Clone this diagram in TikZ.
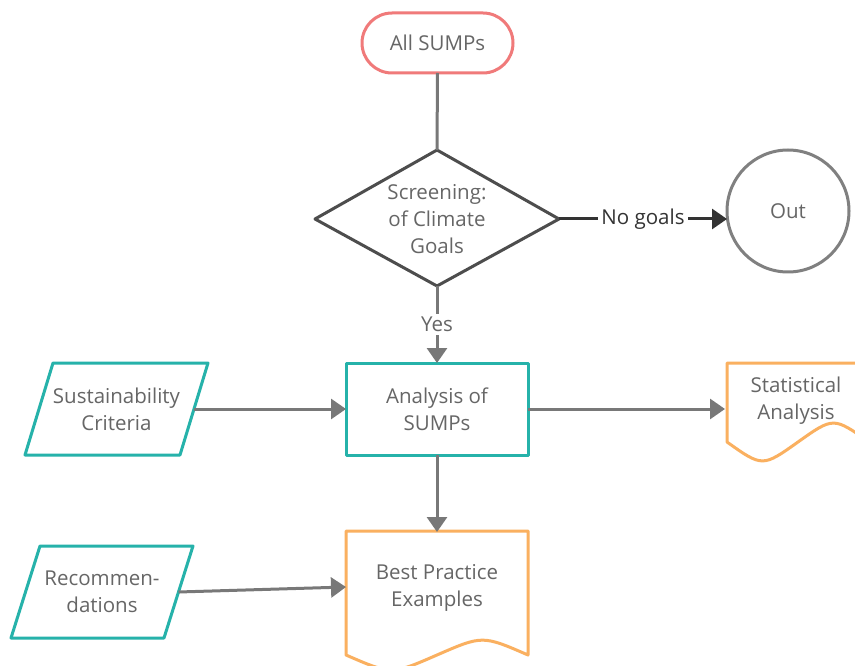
\documentclass[tikz,border=0pt]{standalone}
\usepackage{fontspec}
\setmainfont{Open Sans}
\usetikzlibrary{arrows.meta}

\definecolor{termred}{RGB}{240,122,122}
\definecolor{procteal}{RGB}{38,178,170}
\definecolor{docorange}{RGB}{250,176,96}
\definecolor{linegray}{RGB}{120,120,120}
\definecolor{decgray}{RGB}{77,77,77}
\definecolor{outgray}{RGB}{128,128,128}
\definecolor{textgray}{RGB}{102,102,102}
\definecolor{darktext}{RGB}{51,51,51}

\tikzset{
  txt/.style={text=textgray, font=\fontsize{20.5}{27}\selectfont, align=center,
              inner sep=0pt, outer sep=0pt},
  shapeline/.style={line width=3pt, line join=round},
  conn/.style={draw=linegray, line width=3pt,
               -{Triangle[length=15pt,width=20pt]}},
  darkconn/.style={draw=darktext, line width=3pt,
               -{Triangle[length=15pt,width=20pt]}},
  lbl/.style={txt, fill=white, inner sep=3.5pt},
}

\begin{document}
\begin{tikzpicture}[x=1pt,y=-1pt]
  \clip (0,0) rectangle (855,666);
  \fill[white] (0,0) rectangle (855,666);

  % start terminal
  \node[txt, draw=termred, shapeline, rounded corners=30pt,
        minimum width=151pt, minimum height=60pt] (all) at (437.5,43) {All SUMPs};

  % decision
  \node[txt, minimum width=244pt, minimum height=136pt] (screen) at (437,219)
        {Screening:\\of Climate\\Goals};
  \draw[shapeline, draw=decgray] ([yshift=1pt]screen.north) -- (screen.east)
        -- ([yshift=1pt]screen.south) -- (screen.west) -- cycle;

  % exit
  \node[txt, circle, draw=outgray, shapeline, minimum size=122pt] (out) at (788,211) {Out};

  % process
  \node[txt, draw=procteal, shapeline, minimum width=182pt, minimum height=92pt]
        (ana) at (437,409) {Analysis of\\SUMPs};

  % inputs (parallelograms)
  \node[txt, minimum width=155pt, minimum height=92pt] (crit) at (116.5,409)
        {Sustainability\\Criteria};
  \draw[shapeline, draw=procteal] ([xshift=14pt]crit.north west) -- ([xshift=14pt]crit.north east)
        -- ([xshift=-14pt]crit.south east) -- ([xshift=-14pt]crit.south west) -- cycle;

  \node[txt, minimum width=153pt, minimum height=92pt] (rec) at (102,592)
        {Recommen-\\dations};
  \draw[shapeline, draw=procteal] ([xshift=14.5pt]rec.north west) -- ([xshift=14.5pt]rec.north east)
        -- ([xshift=-14.5pt]rec.south east) -- ([xshift=-14.5pt]rec.south west) -- cycle;

  % documents
  \node[txt, minimum width=142pt, minimum height=74pt] (stat) at (796,401)
        {Statistical\\Analysis};
  \draw[shapeline, draw=docorange] (727,363) -- (869,363) -- (869,442)
        .. controls (833.5,416.8) .. (798,442)
        .. controls (762.5,467.2) .. (727,442) -- cycle;

  \node[txt, minimum width=182pt, minimum height=112pt] (best) at (437,588)
        {Best Practice\\Examples};
  \draw[shapeline, draw=docorange] (346,531) -- (528,531) -- (528,655)
        .. controls (482.5,635.2) .. (437,655)
        .. controls (391.5,674.8) .. (346,655) -- cycle;

  % connectors
  \draw[draw=linegray, line width=3pt] (all.south) -- ([yshift=1pt]screen.north);
  \draw[conn] ([yshift=1pt]screen.south) -- node[lbl] {Yes} (ana.north);
  \draw[darkconn] (screen.east) -- node[lbl, text=darktext] {No goals} (screen.east -| out.west);
  \draw[conn] (crit.east) -- (ana.west);
  \draw[conn] (ana.east) -- (ana.east -| stat.west);
  \draw[conn] (ana.south) -- (best.north);
  \draw[conn] (rec.east) -- ([yshift=1pt]best.west);
\end{tikzpicture}
\end{document}
